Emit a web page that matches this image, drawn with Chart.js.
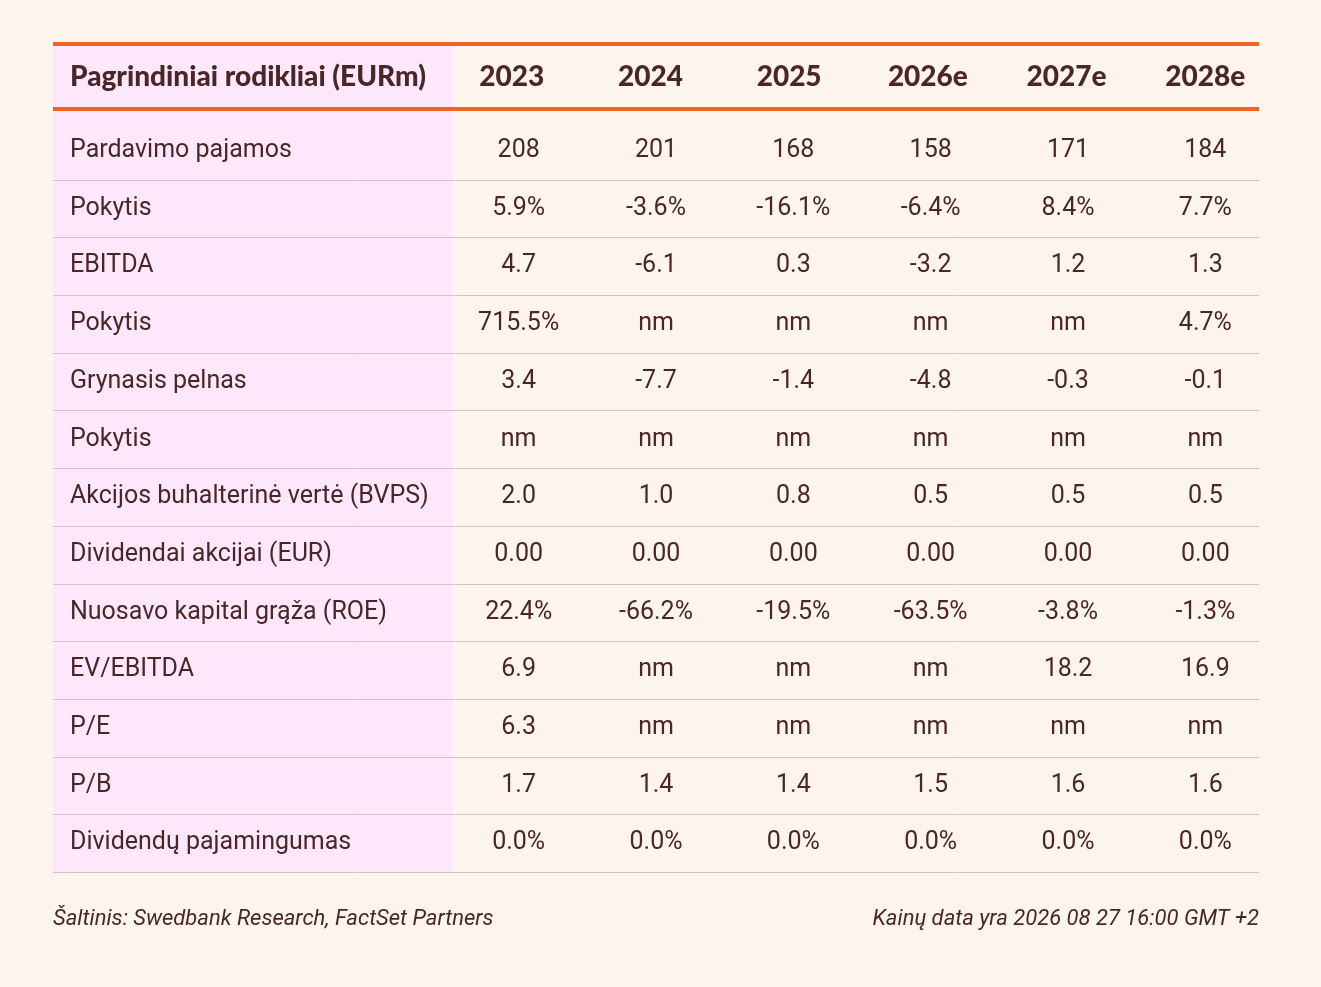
<!DOCTYPE html>
<html>
<head>
<meta charset="utf-8">
<script src="https://cdn.jsdelivr.net/npm/chart.js@4.4.0/dist/chart.umd.min.js"></script>
<style>
  html, body { margin: 0; padding: 0; background: #fdf5ed; }
  #wrap { width: 1321px; height: 987px; }
</style>
</head>
<body>
<div id="wrap"><canvas id="tbl" width="1321" height="987"></canvas></div>
<script>
// table content
const headerTitle = 'Pagrindiniai rodikliai (EURm)';
const years = ['2023', '2024', '2025', '2026e', '2027e', '2028e'];
const rowLabels = [
    'Pardavimo pajamos',
    'Pokytis',
    'EBITDA',
    'Pokytis',
    'Grynasis pelnas',
    'Pokytis',
    'Akcijos buhalterinė vertė (BVPS)',
    'Dividendai akcijai (EUR)',
    'Nuosavo kapital grąža (ROE)',
    'EV/EBITDA',
    'P/E',
    'P/B',
    'Dividendų pajamingumas'
];
const pardavimoPajamos = ['208', '201', '168', '158', '171', '184'];
const pardavimoPokytis = ['5.9%', '-3.6%', '-16.1%', '-6.4%', '8.4%', '7.7%'];
const ebitda = ['4.7', '-6.1', '0.3', '-3.2', '1.2', '1.3'];
const ebitdaPokytis = ['715.5%', 'nm', 'nm', 'nm', 'nm', '4.7%'];
const grynasisPelnas = ['3.4', '-7.7', '-1.4', '-4.8', '-0.3', '-0.1'];
const pelnoPokytis = ['nm', 'nm', 'nm', 'nm', 'nm', 'nm'];
const bvps = ['2.0', '1.0', '0.8', '0.5', '0.5', '0.5'];
const dividendai = ['0.00', '0.00', '0.00', '0.00', '0.00', '0.00'];
const roe = ['22.4%', '-66.2%', '-19.5%', '-63.5%', '-3.8%', '-1.3%'];
const evEbitda = ['6.9', 'nm', 'nm', 'nm', '18.2', '16.9'];
const pe = ['6.3', 'nm', 'nm', 'nm', 'nm', 'nm'];
const pb = ['1.7', '1.4', '1.4', '1.5', '1.6', '1.6'];
const divPajamingumas = ['0.0%', '0.0%', '0.0%', '0.0%', '0.0%', '0.0%'];
const rows = [pardavimoPajamos, pardavimoPokytis, ebitda, ebitdaPokytis, grynasisPelnas, pelnoPokytis,
    bvps, dividendai, roe, evEbitda, pe, pb, divPajamingumas];
const sourceNote = 'Šaltinis: Swedbank Research, FactSet Partners';
const dateNote = 'Kainų data yra 2026 08 27 16:00 GMT +2';

const COLORS = {
    bg: '#fdf5ed',
    pink: '#fde8fb',
    orange: '#ef6328',
    text: '#4b2628',
    rule: '#d3c3c8'
};
const TABLE_LEFT = 53;
const TABLE_RIGHT = 1259;
const LABEL_COL_RIGHT = 453;

const tablePlugin = {
    id: 'tablePlugin',
    beforeDraw(chart) {
        const ctx = chart.ctx;
        const x = chart.scales.x;
        const y = chart.scales.y;
        const rowH = y.getPixelForValue(1) - y.getPixelForValue(0);
        const bottom = y.getPixelForValue(rows.length - 1) + rowH / 2;
        const headTop = 44;
        const headBottom = 109;
        ctx.save();
        ctx.fillStyle = COLORS.bg;
        ctx.fillRect(0, 0, chart.width, chart.height);

        // label column background
        ctx.fillStyle = COLORS.pink;
        ctx.fillRect(TABLE_LEFT, headTop, LABEL_COL_RIGHT - TABLE_LEFT, bottom - headTop);

        // row rules
        ctx.strokeStyle = COLORS.rule;
        ctx.lineWidth = 1;
        for (let r = 0; r < rows.length; r++) {
            const yy = Math.round(y.getPixelForValue(r) + rowH / 2) + 0.5;
            ctx.beginPath();
            ctx.moveTo(TABLE_LEFT, yy);
            ctx.lineTo(TABLE_RIGHT, yy);
            ctx.stroke();
        }

        // header rules
        ctx.strokeStyle = COLORS.orange;
        ctx.lineWidth = 4;
        [headTop, headBottom].forEach(function (yy) {
            ctx.beginPath();
            ctx.moveTo(TABLE_LEFT, yy);
            ctx.lineTo(TABLE_RIGHT, yy);
            ctx.stroke();
        });

        // header text
        ctx.fillStyle = COLORS.text;
        ctx.textBaseline = 'middle';
        ctx.font = '900 28px Lato';
        ctx.textAlign = 'left';
        ctx.fillText(headerTitle, 70, (headTop + headBottom) / 2);
        ctx.textAlign = 'center';
        years.forEach(function (yr, i) {
            ctx.fillText(yr, x.getPixelForValue(i) + (i - 5) * 1.4, (headTop + headBottom) / 2);
        });

        // body
        ctx.font = '25px Roboto';
        rows.forEach(function (vals, r) {
            const yy = y.getPixelForValue(r);
            ctx.textAlign = 'left';
            ctx.fillText(rowLabels[r], 70, yy);
            ctx.textAlign = 'center';
            vals.forEach(function (v, c) {
                ctx.fillText(v, x.getPixelForValue(c), yy);
            });
        });

        // footer
        ctx.font = 'italic 22px Roboto';
        ctx.textAlign = 'left';
        ctx.fillText(sourceNote, TABLE_LEFT, 919);
        ctx.textAlign = 'right';
        ctx.fillText(dateNote, TABLE_RIGHT, 919);
        ctx.restore();
    }
};

const ctx = document.getElementById('tbl').getContext('2d');
const tableChart = new Chart(ctx, {
    type: 'scatter',
    data: {
        datasets: [{
            data: rows.flatMap((vals, r) => vals.map((v, c) => ({ x: c, y: r }))),
            pointRadius: 0,
            pointHoverRadius: 0
        }]
    },
    options: {
        responsive: false,
        animation: false,
        devicePixelRatio: 1,
        layout: { padding: { left: 450, right: 47, top: 122, bottom: 115 } },
        plugins: { legend: { display: false }, tooltip: { enabled: false } },
        scales: {
            x: { type: 'category', labels: years, offset: true, display: false },
            y: { type: 'category', labels: rowLabels.map((l, i) => i + ' ' + l), offset: true, display: false }
        }
    },
    plugins: [tablePlugin]
});
</script>
</body>
</html>
